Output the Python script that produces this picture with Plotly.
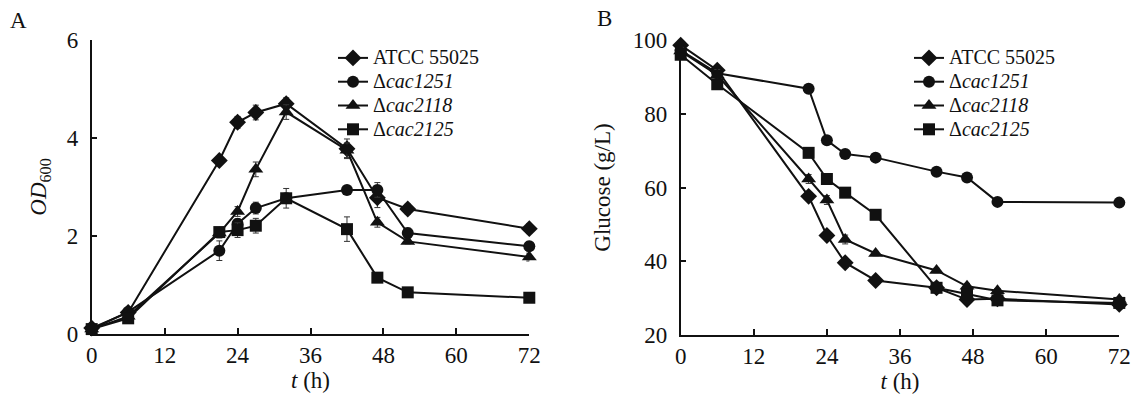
import plotly.graph_objects as go

# ---------------- data ----------------
time_h = [0, 6, 21, 24, 27, 32, 42, 47, 52, 72]

series_names = ["ATCC 55025", "Δ<i>cac1251</i>", "Δ<i>cac2118</i>", "Δ<i>cac2125</i>"]
symbols = ["diamond", "circle", "triangle-up", "square"]
marker_sizes = [13, 12, 13, 12]

# Panel A: OD600
od_atcc = [0.12, 0.44, 3.54, 4.32, 4.52, 4.70, 3.78, 2.78, 2.55, 2.15]
od_1251 = [0.10, 0.45, 1.70, 2.25, 2.57, 2.77, 2.94, 2.94, 2.06, 1.79]
od_2118 = [0.10, 0.36, 2.06, 2.50, 3.36, 4.53, 3.75, 2.28, 1.89, 1.57]
od_2125 = [0.10, 0.32, 2.08, 2.12, 2.21, 2.77, 2.14, 1.15, 0.85, 0.74]
od_err_atcc = [0.02, 0.05, 0.05, 0.12, 0.15, 0.12, 0.20, 0.20, 0.10, 0.10]
od_err_1251 = [0.02, 0.05, 0.20, 0.10, 0.12, 0.10, 0.08, 0.15, 0.10, 0.10]
od_err_2118 = [0.02, 0.05, 0.10, 0.10, 0.15, 0.15, 0.15, 0.10, 0.05, 0.08]
od_err_2125 = [0.02, 0.05, 0.05, 0.15, 0.15, 0.20, 0.25, 0.10, 0.05, 0.05]

# Panel B: Glucose (g/L)
glc_atcc = [98.6, 91.8, 57.6, 47.0, 39.6, 34.8, 32.8, 29.6, 29.8, 28.3]
glc_1251 = [97.2, 91.0, 86.8, 72.8, 69.1, 68.1, 64.3, 62.7, 56.1, 55.9]
glc_2118 = [97.0, 90.5, 62.3, 56.6, 45.9, 42.1, 37.5, 33.2, 32.0, 29.6]
glc_2125 = [96.0, 88.0, 69.4, 62.3, 58.6, 52.6, 32.8, 31.0, 29.4, 28.7]
glc_err_atcc = [1.5, 1.0, 1.0, 1.2, 1.2, 0.6, 0.6, 1.0, 0.6, 0.8]
glc_err_1251 = [1.0, 0.8, 0.8, 0.8, 0.6, 0.6, 0.6, 0.6, 0.6, 0.6]
glc_err_2118 = [1.0, 1.5, 1.2, 1.2, 1.2, 0.6, 0.6, 0.8, 0.6, 0.6]
glc_err_2125 = [1.0, 1.0, 0.8, 0.8, 0.8, 0.8, 0.8, 0.6, 0.6, 0.6]

x_ticks = [0, 12, 24, 36, 48, 60, 72]
od_ticks = [0, 2, 4, 6]
glc_ticks = [20, 40, 60, 80, 100]

# ---------------- figure ----------------
FONT = "Liberation Serif, Times New Roman, serif"
INK = "#111111"
TS = 23

fig = go.Figure()

od_vals = [od_atcc, od_1251, od_2118, od_2125]
od_errs = [od_err_atcc, od_err_1251, od_err_2118, od_err_2125]
glc_vals = [glc_atcc, glc_1251, glc_2118, glc_2125]
glc_errs = [glc_err_atcc, glc_err_1251, glc_err_2118, glc_err_2125]

def legend_label(name):
    # larger visible text while the legend row height follows the legend font size
    return '<span style="font-size:20px">' + name + '</span>'

for i in range(4):
    fig.add_trace(go.Scatter(
        x=time_h, y=od_vals[i], name=legend_label(series_names[i]), mode="lines+markers",
        line=dict(color=INK, width=2),
        marker=dict(symbol=symbols[i], size=marker_sizes[i], color=INK),
        error_y=dict(type="data", array=od_errs[i], color="#333333", thickness=1, width=3),
        cliponaxis=False, xaxis="x", yaxis="y", legend="legend",
    ))
for i in range(4):
    fig.add_trace(go.Scatter(
        x=time_h, y=glc_vals[i], name=legend_label(series_names[i]), mode="lines+markers",
        line=dict(color=INK, width=2),
        marker=dict(symbol=symbols[i], size=marker_sizes[i], color=INK),
        error_y=dict(type="data", array=glc_errs[i], color="#333333", thickness=1, width=3),
        cliponaxis=False, xaxis="x2", yaxis="y2", legend="legend2",
    ))

W, H = 1134, 402

def px_x(p):
    return p / W

def px_y(p):
    return 1 - p / H

axis_common = dict(
    showline=True, linecolor=INK, linewidth=1.5, ticks="inside", ticklen=6,
    tickcolor=INK, tickwidth=1.5, showgrid=False, zeroline=False, mirror=False,
    automargin=False,
    tickfont=dict(family=FONT, size=TS, color=INK),
)

legend_common = dict(
    font=dict(family=FONT, size=16, color=INK), bgcolor="rgba(0,0,0,0)",
    borderwidth=0, xanchor="left", yanchor="top", tracegroupgap=0,
    itemwidth=30,
)

title_font = dict(family=FONT, size=TS, color=INK)

fig.update_layout(
    width=W, height=H,
    margin=dict(l=0, r=0, t=0, b=0, autoexpand=False),
    plot_bgcolor="white", paper_bgcolor="white",
    font=dict(family=FONT, color=INK),
    showlegend=True,
    xaxis=dict(domain=[px_x(91.7), px_x(529.3)], range=[0, 72], tickvals=x_ticks,
               anchor="y", title=dict(text="<i>t</i> (h)", font=title_font, standoff=4),
               **axis_common),
    yaxis=dict(domain=[px_y(334), px_y(40)], range=[0, 6], tickvals=od_ticks,
               anchor="x", ticklabelstandoff=7,
               title=dict(text="<i>OD</i><sub>600</sub>", font=title_font, standoff=14),
               **axis_common),
    xaxis2=dict(domain=[px_x(680.7), px_x(1119.3)], range=[0, 72], tickvals=x_ticks,
                anchor="y2", title=dict(text="<i>t</i> (h)", font=title_font, standoff=4),
                **axis_common),
    yaxis2=dict(domain=[px_y(335), px_y(40)], range=[20, 100], tickvals=glc_ticks,
                anchor="x2", ticklabelstandoff=7,
                title=dict(text="Glucose (g/L)", font=title_font, standoff=16),
                **axis_common),
    legend=dict(x=px_x(333), y=px_y(41), **legend_common),
    legend2=dict(x=px_x(909), y=px_y(41), **legend_common),
    annotations=[
        dict(text="A", x=px_x(18), y=px_y(20), xref="paper", yref="paper", showarrow=False,
             xanchor="center", yanchor="middle", font=dict(family=FONT, size=TS, color=INK)),
        dict(text="B", x=px_x(604), y=px_y(19), xref="paper", yref="paper", showarrow=False,
             xanchor="center", yanchor="middle", font=dict(family=FONT, size=TS, color=INK)),
    ],
)

fig.write_html("out.html", config={"displayModeBar": False},
               post_script="document.body.style.margin='0';document.body.style.overflow='hidden';")
